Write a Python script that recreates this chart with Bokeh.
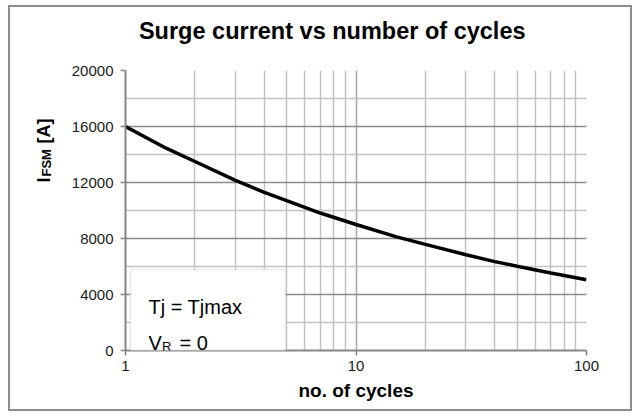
import math
from bokeh.plotting import figure
from bokeh.layouts import column, row
from bokeh.models import Label, BoxAnnotation, FixedTicker, BasicTickFormatter, Range1d
from bokeh.embed import file_html
from bokeh.resources import INLINE

# ---- data ----
cycles = [1, 1.5, 2, 3, 4, 5, 7, 10, 15, 20, 30, 40, 50, 70, 100]
surge_current = [16000, 14450, 13500, 12150, 11300, 10700, 9820, 9000, 8120, 7580,
                 6840, 6350, 6020, 5540, 5050]
x_ticks = [1, 10, 100]
x_minor = [2, 3, 4, 5, 6, 7, 8, 9, 20, 30, 40, 50, 60, 70, 80, 90]
y_ticks = [0, 4000, 8000, 12000, 16000, 20000]
y_minor = [2000, 6000, 10000, 14000, 18000]
title_text = "Surge current vs number of  cycles"
x_label = "no. of cycles"
note_line1 = "Tj = Tjmax"

FONT = "Liberation Sans"

# page geometry of the chart box content
CX0, CY0, CX1, CY1 = 10, 7, 630, 409
TITLE_H = 48
YLAB_W = 56
FL, FR, FT, FB = 125, 586, 70, 350   # plot frame on the page
TOP = CY0 + TITLE_H                   # top of the plotting row
MAIN_X0 = CX0 + YLAB_W


def xd(px):
    return 10 ** (2 * (px - FL) / (FR - FL))


def yd(py):
    return (FB - py) / (FB - FT) * 20000


def blank_fig(w, h):
    f = figure(width=w, height=h, output_backend="svg", toolbar_location=None,
               x_axis_location=None, y_axis_location=None,
               x_range=Range1d(0, 1), y_range=Range1d(0, 1),
               min_border=0, background_fill_color="white", border_fill_color="white")
    f.outline_line_color = None
    f.xgrid.visible = False
    f.ygrid.visible = False
    return f


# ---- title strip ----
tfig = blank_fig(CX1 - CX0, TITLE_H)
tfig.add_layout(Label(x=335 - CX0, y=TOP - 30, x_units="screen", y_units="screen",
                      text=title_text, text_font=FONT, text_font_size="23.5px",
                      text_font_style="bold", text_align="center", text_baseline="middle",
                      text_color="black"))

# ---- y-label strip ----
yfig = blank_fig(YLAB_W, CY1 - TOP)
for txt, px, py, size in [("I", 43, 241, "18px"), ("FSM", 46, 235, "13px"), ("[A]", 43, 202, "18px")]:
    yfig.add_layout(Label(x=px - CX0, y=CY1 - py, x_units="screen", y_units="screen",
                          text=txt, angle=math.pi / 2, text_font=FONT, text_font_size=size,
                          text_font_style="bold", text_baseline="alphabetic", text_color="black"))

# ---- main plot ----
p = figure(width=CX1 - MAIN_X0, height=CY1 - TOP, x_axis_type="log", output_backend="svg",
           toolbar_location=None, title=None,
           x_range=Range1d(1, 100), y_range=Range1d(0, 20000),
           min_border_left=FL - MAIN_X0, min_border_right=CX1 - FR,
           min_border_top=FT - TOP, min_border_bottom=CY1 - FB,
           background_fill_color="white", border_fill_color="white")
p.outline_line_color = None

p.xaxis.ticker = FixedTicker(ticks=x_ticks, minor_ticks=x_minor)
p.yaxis.ticker = FixedTicker(ticks=y_ticks, minor_ticks=y_minor)
p.xaxis.formatter = BasicTickFormatter()
p.yaxis.formatter = BasicTickFormatter(use_scientific=False)
for ax in (p.xaxis, p.yaxis):
    ax.axis_line_color = "#868686"
    ax.axis_line_width = 2
    ax.major_tick_line_color = "#868686"
    ax.major_tick_line_width = 1.5
    ax.major_tick_in = 0
    ax.major_tick_out = 5
    ax.minor_tick_line_color = None
    ax.major_label_text_font = FONT
    ax.major_label_text_font_size = "15px"
    ax.major_label_text_color = "#1a1a1a"
p.xaxis.major_label_standoff = 5
p.yaxis.major_label_standoff = 7
p.xaxis.axis_label = x_label
p.xaxis.axis_label_text_font = FONT
p.xaxis.axis_label_text_font_size = "19px"
p.xaxis.axis_label_text_font_style = "bold"
p.xaxis.axis_label_text_color = "black"
p.xaxis.axis_label_standoff = 6

for g in (p.xgrid, p.ygrid):
    g.grid_line_color = "#8c8c8c"
    g.grid_line_width = 1.5
    g.minor_grid_line_color = "#c3c3c3"
    g.minor_grid_line_width = 1.5
p.xgrid.grid_line_color = "#a6a6a6"

p.line(cycles, surge_current, line_color="black", line_width=3.5)

p.add_layout(BoxAnnotation(left=xd(130), right=xd(285), bottom=0, top=yd(269),
                           fill_color="white", fill_alpha=1,
                           line_color="#c3c3c3", line_width=2, level="annotation"))

for txt, px, py, size in [(note_line1, 148, 306, "20px"), ("V", 148, 342, "20px"),
                          ("R", 161.5, 346, "13px"), ("= 0", 179, 342, "20px")]:
    p.add_layout(Label(x=xd(px), y=yd(py), text=txt, text_font=FONT, text_font_size=size,
                       text_baseline="alphabetic", text_color="black"))

layout = column(tfig, row(yfig, p, spacing=0), spacing=0,
                margin=(CY0 - 2, 0, 0, CX0 - 2),
                styles={"border": "2px solid #8c8c8c", "background-color": "white"})

open("out.html", "w").write(file_html(layout, INLINE))
